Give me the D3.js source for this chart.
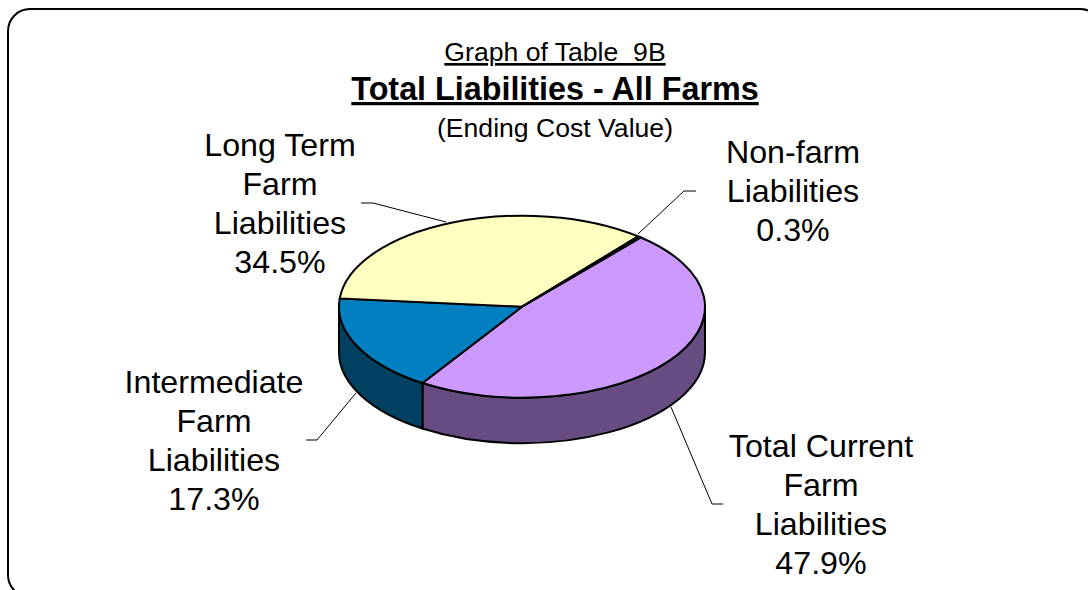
<!doctype html>
<html>
<head>
    <title>Total Liabilities - All Farms</title>
    <script src="https://d3js.org/d3.v7.min.js"></script>
    <style>
      html, body { margin:0; padding:0; background:white; overflow:hidden; }
      text { font-family:"Liberation Sans", Arial, sans-serif; fill:black; white-space:pre; }
    </style>
</head>
<body>
    <script>
    var width = 1088, height = 590;

    // slices, clockwise from the non-farm / current boundary
    var categories = ["Total Current Farm Liabilities", "Intermediate Farm Liabilities", "Long Term Farm Liabilities", "Non-farm Liabilities"];
    var shares = [47.9, 17.3, 34.5, 0.3];
    var topColors = ["#cc99ff", "#0080c0", "#ffffc0", "#000000"];
    var sideColors = ["#664c80", "#004060", "#808060", "#000000"];

    var labelLines = [
      ["Total Current", "Farm", "Liabilities", "47.9%"],
      ["Intermediate", "Farm", "Liabilities", "17.3%"],
      ["Long Term", "Farm", "Liabilities", "34.5%"],
      ["Non-farm", "Liabilities", "0.3%"]
    ];
    var labelX = [821, 214, 280, 793];
    var labelY = [457, 393, 156, 163];
    var leaders = [
      [[671, 407], [712, 504], [723, 504]],
      [[356, 393], [317, 440], [306, 440]],
      [[446, 222], [373, 203], [361, 203]],
      [[638, 234], [684, 191], [696, 191]]
    ];

    var cx = 522, cy = 306.7, rx = 183, ry = 91, depth = 45.5;
    var startAngle = 40.5 * Math.PI / 180;

    var svg = d3.select("body").append("svg")
                .attr("width", width)
                .attr("height", height);

    // chart frame, runs off the right and bottom of the picture
    svg.append("rect")
       .attr("x", 8).attr("y", 9)
       .attr("width", 1094).attr("height", 588)
       .attr("rx", 22).attr("ry", 22)
       .attr("fill", "white")
       .attr("stroke", "black")
       .attr("stroke-width", 2);

    var pie = d3.pie().sort(null).startAngle(startAngle).endAngle(startAngle + 2 * Math.PI);
    var slices = pie(shares);

    // angle 0 is straight up, going clockwise
    function px(a) { return cx + rx * Math.sin(a); }
    function py(a) { return cy - ry * Math.cos(a); }

    function ellipseArc(a0, a1, dy, reverse) {
      var e = reverse ? a0 : a1;
      return "A" + rx + "," + ry + " 0 " + (a1 - a0 > Math.PI ? 1 : 0) + " " + (reverse ? 0 : 1) + " " + px(e) + "," + (py(e) + dy);
    }

    // side walls: only the front half of the ellipse is seen
    var frontA = Math.PI / 2, frontB = 3 * Math.PI / 2;
    slices.forEach(function(d, i){
      [0, 2 * Math.PI].forEach(function(turn){
        var a0 = Math.max(d.startAngle, frontA + turn), a1 = Math.min(d.endAngle, frontB + turn);
        if (a1 <= a0) return;
        svg.append("path")
           .attr("d", "M" + px(a0) + "," + py(a0) + ellipseArc(a0, a1, 0, false) +
                      "L" + px(a1) + "," + (py(a1) + depth) + ellipseArc(a0, a1, depth, true) + "Z")
           .attr("fill", sideColors[i])
           .attr("stroke", "black")
           .attr("stroke-width", 2);
      });
    });

    // top faces
    slices.forEach(function(d, i){
      svg.append("path")
         .attr("d", "M" + cx + "," + cy + "L" + px(d.startAngle) + "," + py(d.startAngle) +
                    ellipseArc(d.startAngle, d.endAngle, 0, false) + "Z")
         .attr("fill", topColors[i])
         .attr("stroke", "black")
         .attr("stroke-width", 2);
    });

    // leader lines
    leaders.forEach(function(pts){
      svg.append("path")
         .attr("d", d3.line()(pts))
         .attr("fill", "none")
         .attr("stroke", "black")
         .attr("stroke-width", 1);
    });

    // titles
    function title(txt, y, size, weight, deco) {
      svg.append("text")
         .attr("x", 555).attr("y", y)
         .attr("text-anchor", "middle")
         .style("font-size", size + "px")
         .style("font-weight", weight)
         .style("text-decoration", deco)
         .text(txt);
    }
    title("Graph of Table  9B", 61, 26.6, "normal", "underline");
    title("Total Liabilities - All Farms", 100, 32.3, "bold", "underline");
    title("(Ending Cost Value)", 137, 26.6, "normal", "none");

    // slice labels
    labelLines.forEach(function(lines, i){
      lines.forEach(function(txt, j){
        svg.append("text")
           .attr("x", labelX[i]).attr("y", labelY[i] + j * 39)
           .attr("text-anchor", "middle")
           .style("font-size", "32.2px")
           .text(txt);
      });
    });
    </script>
</body>
</html>
